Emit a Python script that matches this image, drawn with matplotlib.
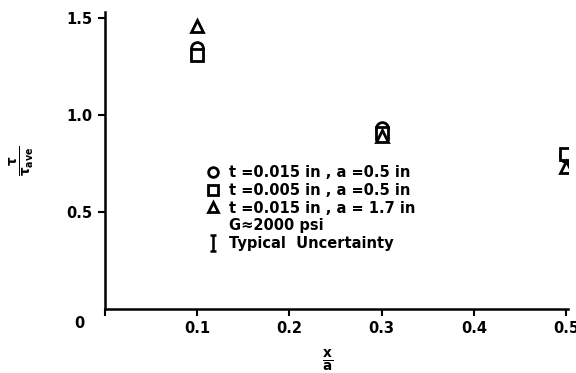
import matplotlib.pyplot as plt
from matplotlib.lines import Line2D
from matplotlib.path import Path

# Data
x_over_a = [0.1, 0.3, 0.5]
ratio_circle = [1.345, 0.93, 0.79]    # t=0.015 in, a=0.5 in
ratio_square = [1.31, 0.905, 0.80]    # t=0.005 in, a=0.5 in
ratio_triangle = [1.46, 0.89, 0.73]   # t=0.015 in, a=1.7 in

series_labels = ["t =0.015 in , a =0.5 in",
                 "t =0.005 in , a =0.5 in",
                 "t =0.015 in , a = 1.7 in"]
x_ticks = [0, 0.1, 0.2, 0.3, 0.4, 0.5]
x_ticklabels = ["", "0.1", "0.2", "0.3", "0.4", "0.5"]
y_ticks = [0.5, 1.0, 1.5]
y_ticklabels = ["0.5", "1.0", "1.5"]

plt.rcParams['font.family'] = 'DejaVu Sans'
plt.rcParams['font.weight'] = 'bold'

fig = plt.figure(figsize=(5.76, 3.73), dpi=100)
ax = fig.add_axes([0.182, 0.172, 0.804, 0.796])

mk = dict(linestyle='none', markerfacecolor='white', markeredgecolor='black',
          markeredgewidth=2.0, markersize=8.5, color='black')
ax.plot(x_over_a, ratio_circle, marker='o', **mk)
ax.plot(x_over_a, ratio_square, marker='s', **mk)
ax.plot(x_over_a, ratio_triangle, marker='^', **mk)

ax.set_xlim(0, 0.502)
ax.set_ylim(0, 1.53)
for s in ['top', 'right']:
    ax.spines[s].set_visible(False)
for s in ['left', 'bottom']:
    ax.spines[s].set_linewidth(1.8)

ax.set_xticks(x_ticks)
ax.set_xticklabels(x_ticklabels)
ax.set_yticks(y_ticks)
ax.set_yticklabels(y_ticklabels)
ax.tick_params(axis='both', direction='out', length=5, width=1.5,
               labelsize=10.5, pad=4)
ax.text(-0.028, -0.075, "0", transform=ax.transData, ha='center', va='center',
        fontsize=10.5, fontweight='bold', clip_on=False)

ax.set_xlabel(r"$\mathbf{\frac{x}{a}}$", fontsize=14)
ax.xaxis.set_label_coords(0.48, -0.13)
ax.set_ylabel(r"$\mathbf{\frac{\tau}{\tau_{ave}}}$", fontsize=14,
              rotation=90, labelpad=22)

# I-beam symbol for the uncertainty entry
ibeam = Path([(-0.4, -1), (0.4, -1), (0, -1), (0, 1), (-0.4, 1), (0.4, 1)],
             [Path.MOVETO, Path.LINETO, Path.MOVETO, Path.LINETO,
              Path.MOVETO, Path.LINETO])

handles = [
    Line2D([], [], marker='o', **dict(mk, markersize=7)),
    Line2D([], [], marker='s', **dict(mk, markersize=7)),
    Line2D([], [], marker='^', **dict(mk, markersize=7)),
    Line2D([], [], linestyle='none'),
    Line2D([], [], linestyle='none', marker=ibeam, markerfacecolor='none',
           markeredgecolor='black', markeredgewidth=1.8, markersize=11),
]
labels = series_labels + ["G\u22482000 psi", "Typical  Uncertainty"]
ax.legend(handles, labels, loc='upper left', bbox_to_anchor=(0.205, 0.505),
          frameon=False, fontsize=10.5, handlelength=1.0, handletextpad=0.6,
          labelspacing=0.2, borderaxespad=0)

fig.savefig("out.png", dpi=100)
